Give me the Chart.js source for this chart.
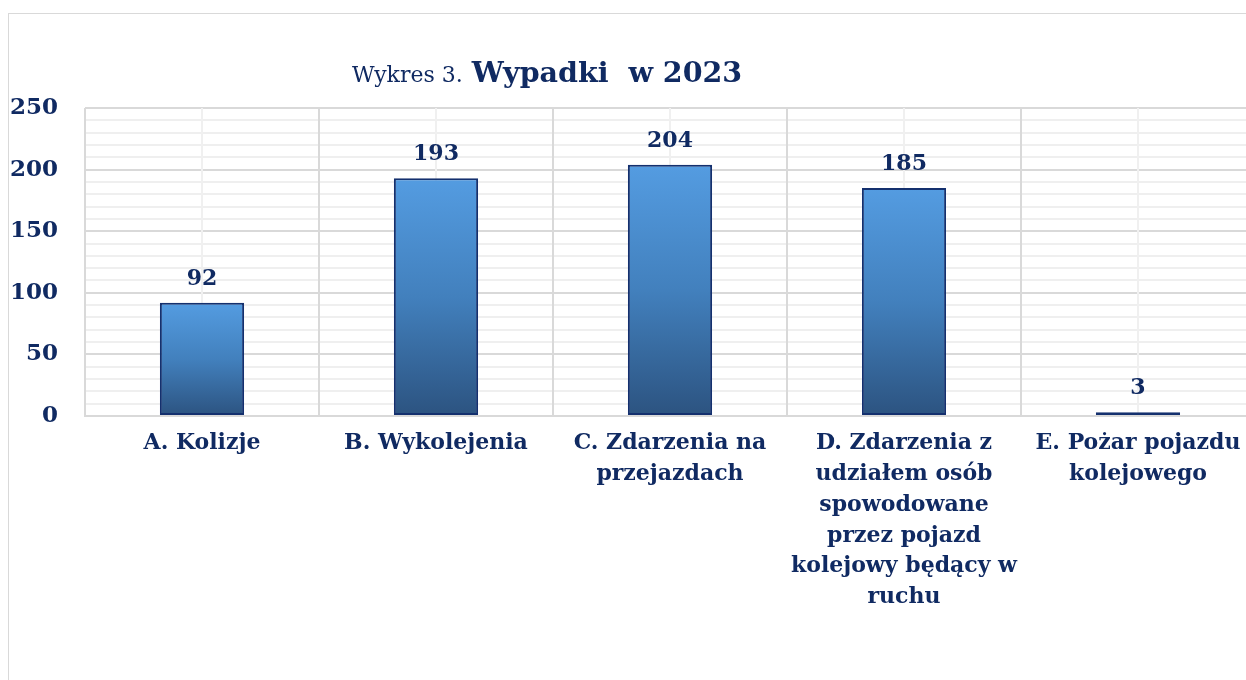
<!DOCTYPE html>
<html>
<head>
<meta charset="utf-8">
<script src="https://cdn.jsdelivr.net/npm/chart.js@4.4.1/dist/chart.umd.min.js"></script>
<style>
  html, body { margin: 0; padding: 0; background: #fff; overflow: hidden; }
  .frame { position: absolute; left: 8px; top: 13px; width: 1300px; height: 800px; border: 1px solid #d9d9d9; }
  .box { position: absolute; left: 0; top: 0; width: 1262px; height: 680px; }
</style>
</head>
<body>
<div class="frame"></div>
<div class="box"><canvas id="myChart"></canvas></div>
<script>
// kategorie (podzielone na linie jak na wykresie)
var categories = [
  ['A. Kolizje'],
  ['B. Wykolejenia'],
  ['C. Zdarzenia na', 'przejazdach'],
  ['D. Zdarzenia z', 'udziałem osób', 'spowodowane', 'przez pojazd', 'kolejowy będący w', 'ruchu'],
  ['E. Pożar pojazdu', 'kolejowego']
];
var values = [92, 193, 204, 185, 3];
var yTicks = [0, 50, 100, 150, 200, 250];

var navy = '#102a62';
var fontFamily = '"DejaVu Serif", serif';

// gradient każdego słupka od góry do dołu
function barGradient(context) {
  var chart = context.chart;
  if (!chart.chartArea || context.dataIndex === undefined) return '#4a8fd3';
  var y = chart.scales.y;
  var top = y.getPixelForValue(values[context.dataIndex]);
  var bottom = y.getPixelForValue(0);
  if (bottom - top < 1) top = bottom - 1;
  var g = chart.ctx.createLinearGradient(0, top, 0, bottom);
  g.addColorStop(0, '#549ce1');
  g.addColorStop(0.5, '#4280bd');
  g.addColorStop(1, '#2c5380');
  return g;
}

// linie pomocnicze w środkach kategorii + tytuł + etykiety wartości
var extraPlugin = {
  id: 'extra',
  beforeDatasetsDraw: function(chart) {
    var ctx = chart.ctx, area = chart.chartArea, x = chart.scales.x;
    ctx.save();
    ctx.strokeStyle = '#f0f0f0';
    ctx.lineWidth = 2;
    categories.forEach(function(c, i) {
      var px = Math.round(x.getPixelForValue(i));
      ctx.beginPath();
      ctx.moveTo(px, area.top);
      ctx.lineTo(px, area.bottom - 1);
      ctx.stroke();
    });
    ctx.restore();
  },
  afterDatasetsDraw: function(chart) {
    var ctx = chart.ctx;
    var meta = chart.getDatasetMeta(0);
    ctx.save();
    ctx.fillStyle = navy;
    ctx.font = 'bold 22px ' + fontFamily;
    ctx.textAlign = 'center';
    ctx.textBaseline = 'alphabetic';
    meta.data.forEach(function(bar, i) {
      ctx.fillText(String(values[i]), bar.x, bar.y - 18);
    });

    // tytuł
    ctx.textAlign = 'left';
    var t1 = 'Wykres 3.';
    var t2 = 'Wypadki  w 2023';
    ctx.font = '22px ' + fontFamily;
    var w1 = ctx.measureText(t1).width;
    ctx.fillText(t1, 352, 82);
    ctx.font = 'bold 28.5px ' + fontFamily;
    ctx.fillText(t2, 352 + w1 + 9, 82);
    ctx.restore();
  }
};

var chart = new Chart(document.getElementById('myChart'), {
  type: 'bar',
  data: {
    labels: categories,
    datasets: [{
      data: values,
      backgroundColor: barGradient,
      borderColor: '#14306e',
      borderWidth: 2,
      borderSkipped: false,
      categoryPercentage: 1,
      barPercentage: 0.36
    }]
  },
  options: {
    responsive: true,
    maintainAspectRatio: false,
    animation: false,
    layout: { padding: { top: 108, right: 7, left: 0, bottom: 0 } },
    plugins: {
      legend: { display: false },
      tooltip: { enabled: false }
    },
    scales: {
      y: {
        min: 0,
        max: 250,
        afterFit: function(s) { s.width = 85; },
        border: { display: false },
        grid: {
          drawTicks: false,
          lineWidth: 2,
          color: function(c) { return c.tick && c.tick.value % 50 === 0 ? '#d9d9d9' : '#efefef'; }
        },
        ticks: {
          stepSize: 10,
          autoSkip: false,
          padding: 27,
          color: navy,
          font: { family: fontFamily, size: 23, weight: 'bold' },
          callback: function(v) { return yTicks.indexOf(v) >= 0 ? v : ''; }
        }
      },
      x: {
        afterFit: function(s) { s.height = 264; },
        border: { color: '#d9d9d9', width: 2 },
        grid: { color: '#d9d9d9', lineWidth: 2, drawTicks: false, offset: true },
        ticks: {
          padding: 12,
          maxRotation: 0,
          autoSkip: false,
          color: navy,
          font: { family: fontFamily, size: 22, weight: 'bold', lineHeight: 1.4 }
        }
      }
    }
  },
  plugins: [extraPlugin]
});
</script>
</body>
</html>
